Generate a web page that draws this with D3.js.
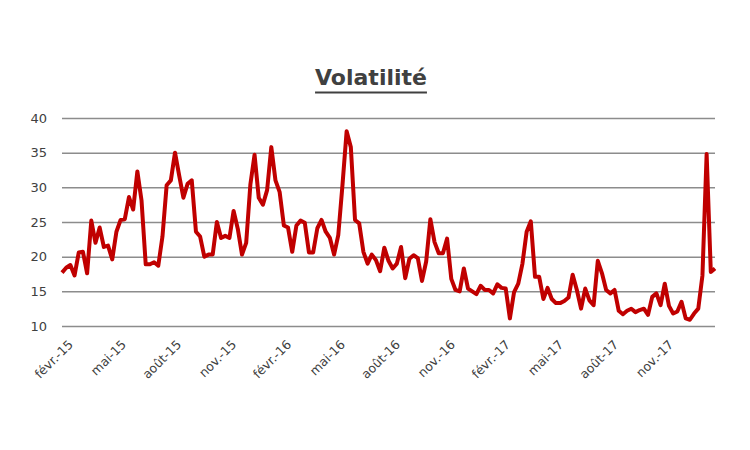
<!DOCTYPE html>
<html>
<head>
<meta charset="utf-8">
<script src="https://cdn.jsdelivr.net/npm/d3@7"></script>
<style>
  html, body { margin: 0; padding: 0; background: #ffffff; }
  svg { display: block; }
</style>
</head>
<body>
<svg id="chart" width="750" height="450"></svg>
<script>
// ---- Data ----
const title = "Volatilité";
const startDate = "2015-02-01";
const volatility = [
  17.7, 18.4, 18.8, 17.3, 20.6, 20.7, 17.6, 25.2, 22.0, 24.2, 21.4, 21.6, 19.6, 23.6, 25.3, 25.4,
  28.6, 26.8, 32.3, 28.1, 18.9, 18.9, 19.2, 18.7, 22.9, 30.3, 31.0, 35.0, 31.7, 28.5, 30.5, 31.0,
  23.6, 22.9, 20.0, 20.3, 20.3, 25.0, 22.7, 23.0, 22.7, 26.6, 24.0, 20.3, 22.0, 30.4, 34.7, 28.5,
  27.5, 29.6, 35.8, 31.0, 29.3, 24.5, 24.2, 20.7, 24.5, 25.2, 24.9, 20.6, 20.6, 24.1, 25.3,
  23.6, 22.7, 20.3, 23.1, 30.3, 38.1, 35.8, 25.3, 24.8, 20.7, 19.0, 20.3, 19.5, 17.9, 21.3, 19.4,
  18.3, 19.0, 21.4, 16.9, 19.7, 20.2, 19.8, 16.5, 19.3, 25.4, 22.1, 20.5, 20.5, 22.6, 16.8,
  15.2, 15.0, 18.3, 15.4, 15.0, 14.6, 15.8, 15.2, 15.2, 14.7, 16.0, 15.5, 15.4, 11.1, 14.9, 16.1,
  19.0, 23.6, 25.1, 17.1, 17.1, 13.9, 15.5, 13.9, 13.3, 13.3, 13.6, 14.1, 17.4, 15.2, 12.5,
  15.4, 13.7, 13.0, 19.4, 17.6, 15.2, 14.7, 15.2, 12.2, 11.7, 12.2, 12.5, 12.0, 12.3, 12.5, 11.6,
  14.2, 14.7, 13.0, 16.1, 12.9, 11.8, 12.1, 13.5, 11.1, 10.9, 11.8, 12.5, 17.3, 34.8, 17.8, 18.3
];
const tickDates = ["2015-02-01", "2015-05-01", "2015-08-01", "2015-11-01",
                   "2016-02-01", "2016-05-01", "2016-08-01", "2016-11-01",
                   "2017-02-01", "2017-05-01", "2017-08-01", "2017-11-01"];
const tickLabels = ["févr.-15", "mai-15", "août-15", "nov.-15",
                    "févr.-16", "mai-16", "août-16", "nov.-16",
                    "févr.-17", "mai-17", "août-17", "nov.-17"];
const yTicks = [10, 15, 20, 25, 30, 35, 40];

// ---- Build ----
(function () {
  const parse = d3.timeParse("%Y-%m-%d");
  const start = parse(startDate);
  const data = volatility.map((v, i) => ({ date: d3.timeWeek.offset(start, i), value: v }));
  const ticks = tickDates.map(parse);
  const labelOf = new Map(ticks.map((t, i) => [+t, tickLabels[i]]));

  const svg = d3.select("#chart");
  const mLeft = 62, mRight = 715, mTop = 118, mBottom = 326;
  const font = "'DejaVu Sans', sans-serif";

  const x = d3.scaleTime().domain(d3.extent(data, d => d.date)).range([mLeft, mRight]);
  const y = d3.scaleLinear().domain([10, 40]).range([mBottom, mTop]);

  // Gridlines + y labels
  const yAxis = d3.axisLeft(y).tickValues(yTicks).tickSize(-(mRight - mLeft)).tickPadding(15).tickFormat(d3.format("d"));
  const gy = svg.append("g").attr("transform", `translate(${mLeft},0)`).call(yAxis);
  gy.select(".domain").remove();
  gy.selectAll(".tick line").attr("stroke", "#8c8c8c").attr("stroke-width", 1.5);
  gy.selectAll(".tick text").attr("fill", "#404040").attr("font-family", font).attr("font-size", 13);

  // X axis labels, rotated -45° with CSS transforms
  const xAxis = d3.axisBottom(x).tickValues(ticks).tickSize(0).tickPadding(0).tickFormat(d => labelOf.get(+d));
  const gx = svg.append("g").attr("transform", `translate(0,${mBottom})`).call(xAxis);
  gx.select(".domain").remove();
  gx.selectAll(".tick text")
    .attr("fill", "#404040")
    .attr("font-family", font)
    .attr("font-size", 12.5)
    .attr("text-anchor", "end")
    .attr("y", 0).attr("dy", "0.71em")
    .style("transform-box", "view-box")
    .style("transform", "translate(5px, 13px) rotate(-45deg)");

  // Line
  const line = d3.line().x(d => x(d.date)).y(d => y(d.value));
  svg.append("path").datum(data)
    .attr("d", line)
    .attr("fill", "none")
    .attr("stroke", "#c00000")
    .attr("stroke-width", 4)
    .attr("stroke-linejoin", "round");

  // Title with underline
  const t = svg.append("text")
    .attr("x", 371).attr("y", 85)
    .attr("text-anchor", "middle")
    .attr("font-family", font).attr("font-weight", "bold").attr("font-size", 22)
    .attr("fill", "#404040")
    .text(title);
  const bb = t.node().getBBox();
  svg.append("line")
    .attr("x1", bb.x).attr("x2", bb.x + bb.width)
    .attr("y1", 92.5).attr("y2", 92.5)
    .attr("stroke", "#404040").attr("stroke-width", 2);
})();
</script>
</body>
</html>
